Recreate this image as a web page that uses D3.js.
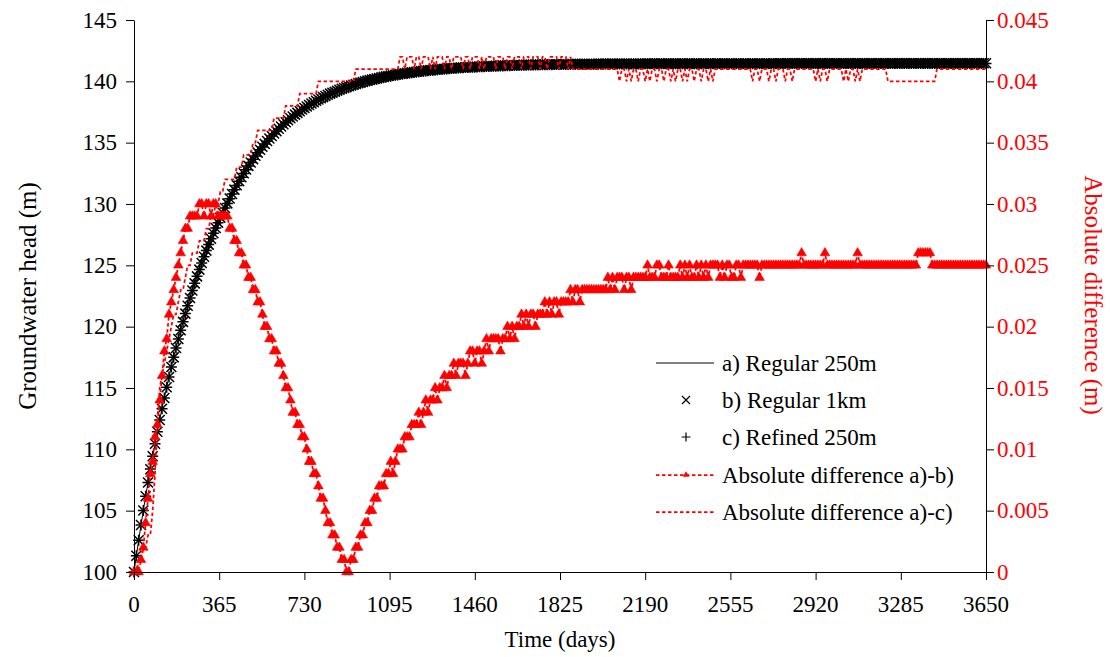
<!DOCTYPE html>
<html><head><meta charset="utf-8">
<script src="https://cdn.jsdelivr.net/npm/d3@7"></script>
<style>
html,body{margin:0;padding:0;background:#fff;}
svg{display:block;font-family:"Liberation Serif";}
svg text{font-family:"Liberation Serif";}
</style></head><body>
<svg id="chart" width="1110" height="657" font-family="Liberation Serif"></svg>
<script>
// ---------- DATA ----------
const timeStepDays = 10; // output interval of the simulation (days)

// a) Regular 250m : groundwater head (m), one value every 10 days from day 0
const headA = [
100.00,101.32,102.59,103.83,105.02,106.18,107.30,108.39,109.44,110.46,
111.44,112.40,113.32,114.21,115.08,115.92,116.73,117.52,118.28,119.02,
119.73,120.42,121.09,121.74,122.37,122.97,123.56,124.13,124.68,125.22,
125.73,126.23,126.72,127.19,127.64,128.08,128.51,128.92,129.32,129.71,
130.08,130.47,130.84,131.20,131.55,131.89,132.21,132.53,132.83,133.13,
133.41,133.68,133.95,134.21,134.45,134.69,134.92,135.15,135.36,135.57,
135.77,135.96,136.15,136.33,136.51,136.68,136.84,137.00,137.15,137.30,
137.44,137.58,137.71,137.84,137.96,138.08,138.20,138.31,138.42,138.52,
138.62,138.72,138.81,138.91,139.00,139.08,139.16,139.24,139.32,139.39,
139.46,139.53,139.60,139.66,139.72,139.79,139.84,139.90,139.95,140.01,
140.06,140.11,140.15,140.20,140.24,140.28,140.33,140.37,140.41,140.44,
140.48,140.51,140.55,140.58,140.61,140.64,140.67,140.70,140.72,140.75,
140.78,140.80,140.82,140.85,140.87,140.89,140.91,140.93,140.95,140.97,
140.99,141.00,141.02,141.04,141.05,141.07,141.08,141.10,141.11,141.12,
141.14,141.15,141.16,141.17,141.18,141.19,141.20,141.21,141.22,141.23,
141.24,141.25,141.26,141.27,141.27,141.28,141.29,141.30,141.30,141.31,
141.32,141.32,141.33,141.34,141.34,141.35,141.35,141.36,141.36,141.37,
141.37,141.38,141.38,141.38,141.39,141.39,141.40,141.40,141.40,141.40,
141.41,141.41,141.41,141.41,141.42,141.42,141.42,141.42,141.43,141.43,
141.43,141.43,141.43,141.44,141.44,141.44,141.44,141.44,141.44,141.45,
141.45,141.45,141.45,141.45,141.45,141.45,141.46,141.46,141.46,141.46,
141.46,141.46,141.46,141.46,141.46,141.46,141.46,141.46,141.46,141.47,
141.47,141.47,141.47,141.47,141.47,141.47,141.47,141.47,141.47,141.47,
141.47,141.47,141.47,141.47,141.47,141.47,141.47,141.47,141.47,141.47,
141.47,141.47,141.47,141.47,141.47,141.47,141.48,141.48,141.48,141.48,
141.48,141.48,141.48,141.48,141.48,141.48,141.48,141.48,141.48,141.48,
141.48,141.48,141.48,141.48,141.48,141.48,141.48,141.48,141.48,141.48,
141.48,141.48,141.48,141.48,141.48,141.48,141.49,141.49,141.49,141.49,
141.49,141.49,141.49,141.49,141.49,141.49,141.49,141.49,141.49,141.49,
141.49,141.49,141.49,141.49,141.49,141.49,141.49,141.49,141.49,141.49,
141.49,141.49,141.49,141.49,141.49,141.49,141.49,141.49,141.49,141.49,
141.49,141.49,141.49,141.49,141.49,141.49,141.50,141.50,141.50,141.50,
141.50,141.50,141.50,141.50,141.50,141.50,141.50,141.50,141.50,141.50,
141.50,141.50,141.50,141.50,141.50,141.50,141.50,141.50,141.50,141.50,
141.50,141.50,141.50,141.50,141.50,141.50,141.50,141.50,141.50,141.50,
141.50,141.50,141.50,141.50,141.50,141.50,141.50,141.50,141.50,141.50,
141.50,141.50,141.50,141.50,141.50,141.50
];

// Absolute difference a)-b), in thousandths of a metre, every 10 days
const diffAB_mm = [
0,0,0,1,2,4,6,8,9,11,
12,14,16,18,19,21,22,23,24,25,
26,27,28,28,29,29,29,29,30,30,
29,30,30,29,30,30,29,29,29,29,
29,28,28,27,27,26,26,25,25,24,
24,23,23,22,22,21,20,20,19,19,
18,18,17,17,16,15,15,14,13,13,
12,12,11,11,10,9,9,8,8,7,
6,6,5,4,4,3,3,2,2,1,
1,0,0,1,1,2,2,3,3,4,
4,5,5,6,6,7,7,7,8,8,
9,8,9,10,10,10,11,11,11,12,
12,12,13,12,13,14,13,14,14,15,
14,15,15,16,15,16,16,17,16,17,
17,17,16,17,18,18,17,18,18,17,
18,19,18,19,19,19,19,18,19,19,
20,19,20,19,20,20,21,20,21,20,
21,21,20,21,21,21,22,21,22,21,
22,22,21,22,22,22,22,23,22,23,
23,22,23,23,23,23,23,23,23,23,
23,23,23,24,23,24,23,24,24,24,
23,24,24,23,24,24,24,24,24,24,
25,24,24,24,25,25,24,24,24,25,
24,24,24,24,25,24,25,24,25,24,
24,25,24,25,24,25,24,25,25,25,
25,24,25,24,25,25,24,24,25,25,
24,25,25,25,25,25,25,25,24,25,
25,25,25,25,25,25,25,25,25,25,
25,25,25,25,25,25,26,25,25,25,
25,25,25,25,25,25,26,25,25,25,
25,25,25,25,25,25,25,25,25,25,
26,25,25,25,25,25,25,25,25,25,
25,25,25,25,25,25,25,25,25,25,
25,25,25,25,25,25,26,26,26,26,
26,26,25,25,25,25,25,25,25,25,
25,25,25,25,25,25,25,25,25,25,
25,25,25,25,25,25
];

// Absolute difference a)-c), in thousandths of a metre, every 10 days
const diffAC_mm = [
0,0,1,1,2,2,3,3,5,8,
12,15,16,17,18,19,20,21,21,22,
23,23,24,25,25,26,26,26,27,27,
27,28,28,29,29,30,30,31,31,32,
32,32,32,32,33,33,33,34,34,34,
34,35,35,36,36,36,36,36,36,36,
37,37,37,37,37,38,38,38,38,38,
38,39,39,39,39,39,39,39,39,40,
40,40,40,40,40,40,40,40,40,40,
40,40,40,40,40,41,41,41,41,41,
41,41,41,41,41,41,41,41,41,41,
41,41,41,41,42,42,41,42,42,42,
41,42,42,41,42,42,42,41,42,41,
42,42,42,41,42,42,41,42,42,42,
42,41,42,42,41,42,42,42,41,42,
41,42,42,42,42,41,42,42,42,41,
42,42,41,42,42,42,41,42,42,42,
41,42,42,42,41,42,42,41,42,42,
42,42,41,42,42,42,41,42,41,41,
41,41,41,41,41,41,41,41,41,41,
41,41,41,41,41,41,41,41,40,41,
41,40,41,40,41,41,40,41,41,40,
41,40,41,41,40,41,41,40,41,41,
40,41,40,41,41,40,41,40,41,41,
40,41,41,40,41,41,40,41,40,41,
41,41,41,41,41,41,41,41,41,41,
41,41,41,41,41,40,41,41,40,41,
41,41,40,41,41,40,41,41,41,40,
41,41,40,41,41,41,41,41,41,41,
41,41,40,41,40,41,41,40,41,41,
41,41,41,41,40,41,40,41,41,40,
41,40,41,41,41,41,41,41,41,41,
41,41,41,40,40,40,40,40,40,40,
40,40,40,40,40,40,40,40,40,40,
40,40,40,40,41,41,41,41,41,41,
41,41,41,41,41,41,41,41,41,41,
41,41,41,41,41,41
];

const xTicks = [0,365,730,1095,1460,1825,2190,2555,2920,3285,3650];
const leftTicks = [100,105,110,115,120,125,130,135,140,145];
const rightTicks = [0,0.005,0.01,0.015,0.02,0.025,0.03,0.035,0.04,0.045];
const rightTickLabels = ["0","0.005","0.01","0.015","0.02","0.025","0.03","0.035","0.04","0.045"];
const seriesNames = ["a) Regular 250m","b) Regular 1km","c) Refined 250m",
  "Absolute difference a)-b)","Absolute difference a)-c)"];
const xTitle = "Time (days)";
const yLeftTitle = "Groundwater head (m)";
const yRightTitle = "Absolute difference (m)";

// ---------- CHART ----------
const RED = "#ff0000";
const FS = 23;
const FS_TITLE_Y = 25;
const FONT = '"Liberation Serif"';
const svg = d3.select("#chart");
const x = d3.scaleLinear().domain([0,3650]).range([134,986]);
const yL = d3.scaleLinear().domain([100,145]).range([572,20]);
const yR = d3.scaleLinear().domain([0,0.045]).range([572,20]);

// b) and c) heads follow from a) and the plotted absolute differences
const recA = headA.map((v,i)=>({t:i*timeStepDays, v}));
const recB = headA.map((v,i)=>({t:i*timeStepDays, v:v-(diffAB_mm[i]||0)/1000}));
const recC = headA.map((v,i)=>({t:i*timeStepDays, v:v-(diffAC_mm[i]||0)/1000}));
const recAB = diffAB_mm.map((v,i)=>({t:i*timeStepDays, v:v/1000}));
const recAC = diffAC_mm.map((v,i)=>({t:i*timeStepDays, v:v/1000}));

const texts = svg.append("g").attr("id","texts");
function addText(sel, fs){ return sel.append("text").style("font-family", FONT).attr("font-size",fs||FS); }

const plot = svg.insert("g", "#texts");
const lineL = d3.line().x(d=>x(d.t)).y(d=>yL(d.v));
const lineR = d3.line().x(d=>x(d.t)).y(d=>yR(d.v));

const crossPath = "M-5,-5L5,5M-5,5L5,-5";
const plusPath = "M-5.5,0H5.5M0,-5.5V5.5";

plot.append("path").datum(recA).attr("d", lineL)
  .attr("fill","none").attr("stroke","#000").attr("stroke-width",1);
plot.append("g").selectAll("path").data(recB).join("path")
  .attr("transform", d=>`translate(${x(d.t)},${yL(d.v)})`)
  .attr("d", crossPath).attr("stroke","#000").attr("stroke-width",1.5).attr("fill","none");
plot.append("g").selectAll("path").data(recC).join("path")
  .attr("transform", d=>`translate(${x(d.t)},${yL(d.v)})`)
  .attr("d", plusPath).attr("stroke","#000").attr("stroke-width",1.5).attr("fill","none");
plot.append("path").datum(recAC).attr("d", lineR)
  .attr("fill","none").attr("stroke",RED).attr("stroke-width",1.75)
  .attr("stroke-dasharray","3.5,2.5");
plot.append("path").datum(recAB).attr("d", lineR)
  .attr("fill","none").attr("stroke",RED).attr("stroke-width",1.75)
  .attr("stroke-dasharray","3.5,2.5");
const tri = d3.symbol(d3.symbolTriangle, 40);
plot.append("g").selectAll("path").data(recAB).join("path")
  .attr("transform", d=>`translate(${x(d.t)},${yR(d.v)})`)
  .attr("d", tri).attr("fill",RED).attr("stroke",RED).attr("stroke-width",0.6);

// ---------- AXES (ticks/domain from d3 axes; labels as plain text) ----------
function cleanAxis(g){
  g.attr("font-family", null).attr("font-size", null);
  g.selectAll("text").remove();
  g.selectAll("line").attr("stroke","#000");
  g.select(".domain").attr("stroke","#000");
}
const gL = svg.insert("g","#texts").attr("transform","translate(134,0)")
  .call(d3.axisLeft(yL).tickValues(leftTicks).tickSize(8).tickSizeOuter(0));
cleanAxis(gL);
const gR = svg.insert("g","#texts").attr("transform","translate(986,0)")
  .call(d3.axisRight(yR).tickValues(rightTicks).tickSize(8).tickSizeOuter(0));
cleanAxis(gR);
const gB = svg.insert("g","#texts").attr("transform","translate(0,572)")
  .call(d3.axisBottom(x).tickValues(xTicks).tickSize(8).tickSizeOuter(0));
cleanAxis(gB);

leftTicks.forEach(v=>{
  addText(texts).attr("x",117).attr("y",yL(v)).attr("dy","0.34em")
    .attr("text-anchor","end").attr("fill","#000").text(d3.format("d")(v));
});
rightTicks.forEach((v,i)=>{
  addText(texts).attr("x",997).attr("y",yR(v)).attr("dy","0.34em")
    .attr("text-anchor","start").attr("fill",RED).text(rightTickLabels[i]);
});
xTicks.forEach(v=>{
  addText(texts).attr("x",x(v)).attr("y",612)
    .attr("text-anchor","middle").attr("fill","#000").text(d3.format("d")(v));
});

// titles
addText(texts).attr("x",560).attr("y",647).attr("text-anchor","middle")
  .attr("fill","#000").text(xTitle);
addText(texts, FS_TITLE_Y).attr("transform","translate(36,296) rotate(-90)").attr("text-anchor","middle")
  .attr("fill","#000").text(yLeftTitle);
addText(texts, FS_TITLE_Y).attr("transform","translate(1085,295) rotate(90)").attr("text-anchor","middle")
  .attr("fill",RED).text(yRightTitle);

// ---------- LEGEND ----------
const legY = [363,400,437,475,512];
const lx1 = 656, lx2 = 714, lmx = 686, ltx = 722;
const leg = svg.insert("g","#texts");
leg.append("line").attr("x1",lx1).attr("x2",lx2).attr("y1",legY[0]).attr("y2",legY[0])
  .attr("stroke","#000").attr("stroke-width",1);
leg.append("path").attr("transform",`translate(${lmx},${legY[1]})`).attr("d","M-4,-4L4,4M-4,4L4,-4")
  .attr("stroke","#000").attr("stroke-width",1.2).attr("fill","none");
leg.append("path").attr("transform",`translate(${lmx},${legY[2]})`).attr("d","M-4.5,0H4.5M0,-4.5V4.5")
  .attr("stroke","#000").attr("stroke-width",1.2).attr("fill","none");
[3,4].forEach(k=>{
  leg.append("line").attr("x1",lx1).attr("x2",lx2).attr("y1",legY[k]).attr("y2",legY[k])
    .attr("stroke",RED).attr("stroke-width",1.75).attr("stroke-dasharray","3.5,2.5");
});
leg.append("path").attr("transform",`translate(${lmx},${legY[3]})`)
  .attr("d", d3.symbol(d3.symbolTriangle, 18)).attr("fill",RED);
seriesNames.forEach((s,i)=>{
  addText(texts).attr("x",ltx).attr("y",legY[i]+7.5).attr("fill","#000").text(s);
});
</script>
</body></html>
